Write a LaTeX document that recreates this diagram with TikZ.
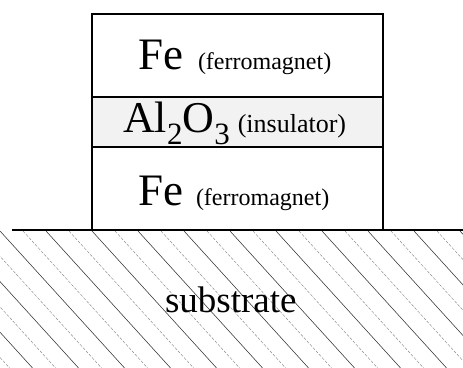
\documentclass[tikz,border=0pt]{standalone}
\usepackage{fontspec}
\setmainfont{Liberation Serif}
\begin{document}
\begin{tikzpicture}[x=1pt,y=-1pt,
  layerbox/.style={draw=black, line width=1.1pt},
  lbl/.style={anchor=base west, inner sep=0pt, outer sep=0pt},
  bigf/.style={font=\fontsize{45}{45}\selectfont},
  hatchdark/.style={draw=black!80, line width=0.55pt},
  hatchlight/.style={draw=black!45, line width=0.45pt, dash pattern=on 3pt off 1.5pt}]
\useasboundingbox (0,0) rectangle (463,367);
\fill[white] (0,0) rectangle (463,367);
% substrate hatching
\begin{scope}
\clip (0,231) rectangle (463,367);
\foreach \i in {-8,-6,...,22} {
  \draw[hatchdark] (\i*23,231) -- ++(140,154);
}
\foreach \i in {-7,-5,...,23} {
  \draw[hatchlight] (\i*23,231) -- ++(140,154);
}
\end{scope}
% layers
\fill[black!5] (92,97) rectangle (383,147);
\draw[layerbox] (92,14) rectangle (383,97);
\draw[layerbox] (92,97) rectangle (383,147);
\draw[layerbox] (92,147) rectangle (383,230);
\draw[line width=1.6pt] (12,230) -- (463,230);
% labels
\node[lbl] (fetop) at (138,69) {\fontsize{45}{45}\selectfont Fe\hspace{15pt}\fontsize{24}{24}\selectfont (ferromagnet)};
\node[lbl] (alox) at (123,132) {\fontsize{44}{44}\selectfont Al\raisebox{-12pt}{\fontsize{31}{31}\selectfont 2}O\raisebox{-12pt}{\fontsize{31}{31}\selectfont 3}\hspace{8pt}\fontsize{26}{26}\selectfont (insulator)};
\node[lbl] (febot) at (138,205) {\fontsize{45}{45}\selectfont Fe\hspace{13pt}\fontsize{24}{24}\selectfont (ferromagnet)};
\node[lbl] (sub) at (165,312) {\fontsize{37}{37}\selectfont substrate};
\end{tikzpicture}
\end{document}
